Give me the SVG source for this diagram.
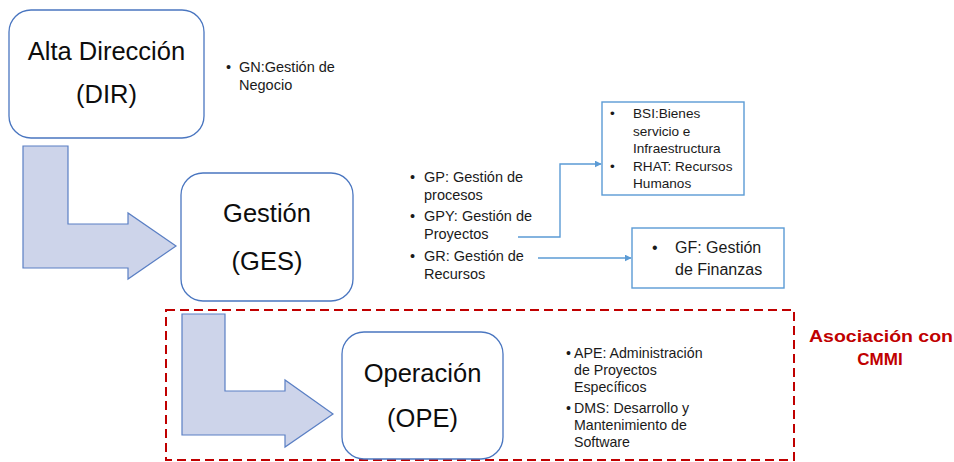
<svg xmlns="http://www.w3.org/2000/svg" width="954" height="462" viewBox="0 0 954 462">
<defs>
<style>
.node{fill:#fff;stroke:#4a76c0;stroke-width:1.3}
.big{font-family:"Liberation Sans",Arial,sans-serif;font-size:25.5px;fill:#0d0d0d;text-anchor:middle}
.txt{font-family:"Liberation Sans",Arial,sans-serif;font-size:14.5px;fill:#1a1a1a}
.txt2{font-family:"Liberation Sans",Arial,sans-serif;font-size:14.2px;fill:#1a1a1a}
.sm{font-family:"Liberation Sans",Arial,sans-serif;font-size:13.6px;fill:#1a1a1a}
.mid{font-family:"Liberation Sans",Arial,sans-serif;font-size:16px;fill:#1a1a1a}
.arrow{fill:#cdd4ea;stroke:#5a7fc4;stroke-width:1.2}
.sq{fill:#fff;stroke:#5b9bd5;stroke-width:1.4}
.conn{fill:none;stroke:#5b9bd5;stroke-width:1.4}
.red{font-family:"Liberation Sans",Arial,sans-serif;font-size:17px;font-weight:bold;fill:#c00000}
</style>
<marker id="ah" viewBox="0 0 10 10" refX="9" refY="5" markerWidth="5" markerHeight="5" orient="auto" markerUnits="strokeWidth">
<path d="M0,0 L10,5 L0,10 z" fill="#5b9bd5"/>
</marker>
</defs>
<rect width="954" height="462" fill="#fff"/>

<g id="arrow-dir-ges">
<polygon class="arrow" points="23,146 68,146 68,224 128,224 128,213 176,246 128,279 128,268 23,268"/>
</g>
<g id="arrow-ges-ope">
<polygon class="arrow" points="182,314 225,314 225,391 285,391 285,380 333,414 285,447 285,435 182,435"/>
</g>

<g id="dir">
<rect class="node" x="9" y="10" width="195" height="128" rx="22"/>
<text class="big" x="106.5" y="60">Alta Dirección</text>
<text class="big" x="106.5" y="103">(DIR)</text>
</g>
<g id="gn">
<text class="txt" x="226" y="72">•</text>
<text class="txt" x="239" y="72">GN:Gestión de</text>
<text class="txt" x="239" y="90">Negocio</text>
</g>

<g id="ges">
<rect class="node" x="181" y="173" width="172" height="128" rx="22"/>
<text class="big" x="267" y="222">Gestión</text>
<text class="big" x="267" y="270">(GES)</text>
</g>
<g id="ges-list">
<text class="txt" x="410" y="182">•</text>
<text class="txt" x="424" y="182">GP: Gestión de</text>
<text class="txt" x="424" y="200">procesos</text>
<text class="txt" x="410" y="221">•</text>
<text class="txt" x="424" y="221">GPY: Gestión de</text>
<text class="txt" x="424" y="239">Proyectos</text>
<text class="txt" x="410" y="261">•</text>
<text class="txt" x="424" y="261">GR: Gestión de</text>
<text class="txt" x="424" y="279">Recursos</text>
</g>

<g id="bsi">
<rect class="sq" x="602" y="102" width="142" height="93"/>
<text class="sm" x="610" y="118">•</text>
<text class="sm" x="633" y="118">BSI:Bienes</text>
<text class="sm" x="633" y="136">servicio e</text>
<text class="sm" x="633" y="153">Infraestructura</text>
<text class="sm" x="610" y="171">•</text>
<text class="sm" x="633" y="171">RHAT: Recursos</text>
<text class="sm" x="633" y="188">Humanos</text>
</g>

<g id="gf">
<rect class="sq" x="632" y="228" width="152" height="60"/>
<text class="mid" x="652" y="253">•</text>
<text class="mid" x="675" y="253">GF: Gestión</text>
<text class="mid" x="675" y="275">de Finanzas</text>
</g>

<g id="connectors">
<path class="conn" d="M518,237 H560 V164 H601" marker-end="url(#ah)"/>
<path class="conn" d="M538,258 H631" marker-end="url(#ah)"/>
</g>

<g id="cmmi">
<rect x="166" y="310" width="628" height="150" fill="none" stroke="#c00000" stroke-width="2" stroke-dasharray="9,5"/>
<text class="red" x="809" y="342" textLength="144" lengthAdjust="spacingAndGlyphs">Asociación  con</text>
<text class="red" x="880" y="365" text-anchor="middle">CMMI</text>
</g>

<g id="ope">
<rect class="node" x="342" y="332" width="161" height="127" rx="22"/>
<text class="big" x="422.5" y="382">Operación</text>
<text class="big" x="422.5" y="427">(OPE)</text>
</g>
<g id="ope-list">
<text class="txt2" x="566" y="358">•</text>
<text class="txt2" x="574" y="358">APE: Administración</text>
<text class="txt2" x="574" y="375">de Proyectos</text>
<text class="txt2" x="574" y="392">Específicos</text>
<text class="txt2" x="566" y="413">•</text>
<text class="txt2" x="574" y="413">DMS: Desarrollo y</text>
<text class="txt2" x="574" y="430">Mantenimiento de</text>
<text class="txt2" x="574" y="447">Software</text>
</g>
</svg>
